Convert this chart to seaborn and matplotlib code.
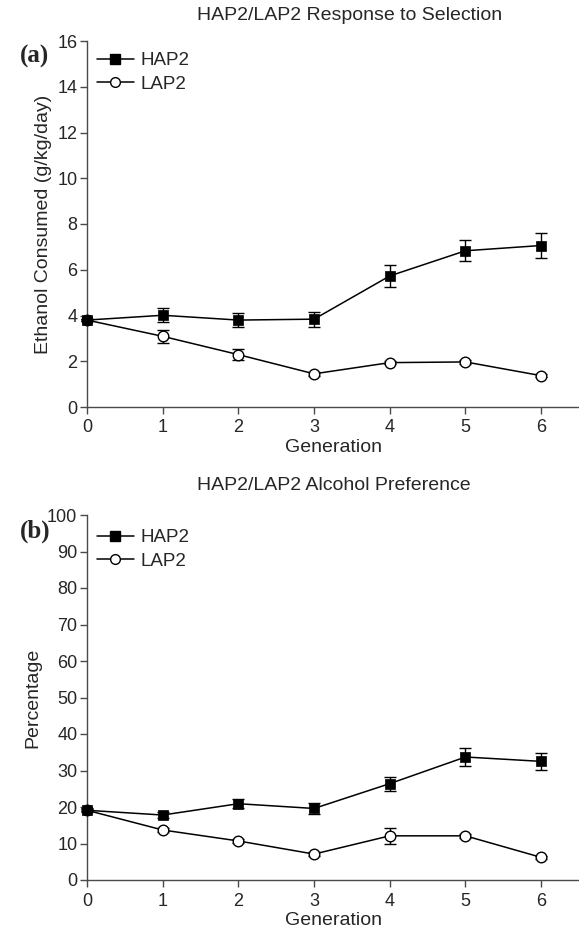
import matplotlib
matplotlib.use("Agg")
import matplotlib.pyplot as plt
from matplotlib.lines import Line2D
import seaborn as sns
import pandas as pd
import numpy as np

generations = [0, 1, 2, 3, 4, 5, 6]

# Panel (a): ethanol consumed (g/kg/day)
hap2_eth = [3.80, 4.01, 3.80, 3.84, 5.73, 6.83, 7.06]
hap2_eth_err = [0.05, 0.30, 0.30, 0.33, 0.48, 0.46, 0.54]
lap2_eth = [3.80, 3.09, 2.29, 1.45, 1.94, 1.97, 1.37]
lap2_eth_err = [0.05, 0.28, 0.23, 0.08, 0.08, 0.08, 0.08]

# Panel (b): preference (%)
hap2_pref = [19.1, 17.8, 20.9, 19.6, 26.4, 33.7, 32.5]
hap2_pref_err = [0.5, 0.8, 1.2, 1.5, 1.9, 2.4, 2.3]
lap2_pref = [19.1, 13.7, 10.7, 7.1, 12.1, 12.1, 6.2]
lap2_pref_err = [0.3, 0.5, 0.5, 0.5, 2.1, 0.6, 0.5]

series = ["HAP2", "LAP2"]
titles = ["HAP2/LAP2 Response to Selection", "HAP2/LAP2 Alcohol Preference"]
ylabels = ["Ethanol Consumed (g/kg/day)", "Percentage"]
panel_tags = ["(a)", "(b)"]

sns.set_theme(style="ticks")
plt.rcParams["font.family"] = ["Liberation Sans", "DejaVu Sans"]

W, H = 579, 932
fig = plt.figure(figsize=(W / 100, H / 100), dpi=100)

def px_axes(left, top, right, bottom):
    return fig.add_axes([left / W, 1 - bottom / H, (right - left) / W, (bottom - top) / H])

ax_a = px_axes(87, 41, 579, 407)
ax_b = px_axes(87, 515, 579, 880)

spine_col = "#4a4a4a"

def draw(ax, h, he, l, le, ylim, yticks, title, ylabel, tag, title_y, tag_y, leg_y):
    df = pd.DataFrame({
        "Generation": generations * 2,
        "value": h + l,
        "line": ["HAP2"] * 7 + ["LAP2"] * 7,
    })
    sns.lineplot(data=df, x="Generation", y="value", units="line", estimator=None,
                 color="black", lw=1.1, ax=ax, legend=False, zorder=2)
    ax.errorbar(generations, h, yerr=he, fmt="none", ecolor="black", elinewidth=1.0,
                capsize=4.3, capthick=1.0, zorder=3, clip_on=False)
    ax.errorbar(generations, l, yerr=le, fmt="none", ecolor="black", elinewidth=1.0,
                capsize=4.3, capthick=1.0, zorder=3, clip_on=False)
    sns.scatterplot(x=generations, y=l, marker="o", s=58, facecolor="white",
                    edgecolor="black", linewidth=1.0, ax=ax, zorder=4, clip_on=False)
    sns.scatterplot(x=generations, y=h, marker="s", s=58, color="black",
                    edgecolor="black", linewidth=0.5, ax=ax, zorder=5, clip_on=False)

    ax.set_xlim(0, 6.5)
    ax.set_ylim(*ylim)
    ax.set_xticks(generations)
    ax.set_yticks(yticks)
    ax.set_xlabel("Generation", fontsize=14, labelpad=2)
    ax.set_ylabel(ylabel, fontsize=14, labelpad=4)
    ax.tick_params(axis="both", direction="out", length=5, width=1.0, color=spine_col,
                   labelsize=13)
    ax.tick_params(axis="x", pad=4)
    ax.tick_params(axis="y", pad=2)
    for s in ["top", "right"]:
        ax.spines[s].set_visible(False)
    for s in ["left", "bottom"]:
        ax.spines[s].set_color(spine_col)
        ax.spines[s].set_linewidth(1.0)

    fig.text(197 / W, 1 - title_y / H, title, fontsize=14, ha="left", va="center")
    fig.text(20 / W, 1 - tag_y / H, tag, fontsize=18, fontweight="bold",
             family=["Liberation Serif", "DejaVu Serif"], ha="left", va="center")

    handles = [
        Line2D([], [], color="black", lw=1.1, marker="s", markersize=6.5,
               markerfacecolor="black", markeredgecolor="black"),
        Line2D([], [], color="black", lw=1.1, marker="o", markersize=7,
               markerfacecolor="white", markeredgecolor="black"),
    ]
    ax.legend(handles, series, loc="upper left", frameon=False, fontsize=13.5,
              handlelength=1.95, handletextpad=0.35, labelspacing=0.35,
              borderpad=0, borderaxespad=0,
              bbox_to_anchor=(97 / W, 1 - leg_y / H),
              bbox_transform=fig.transFigure)

draw(ax_a, hap2_eth, hap2_eth_err, lap2_eth, lap2_eth_err, (0, 16), range(0, 17, 2),
     titles[0], ylabels[0], panel_tags[0], 16, 56, 52)
draw(ax_b, hap2_pref, hap2_pref_err, lap2_pref, lap2_pref_err, (0, 100), range(0, 101, 10),
     titles[1], ylabels[1], panel_tags[1], 485, 531, 529)

fig.savefig("out.png", dpi=100)
